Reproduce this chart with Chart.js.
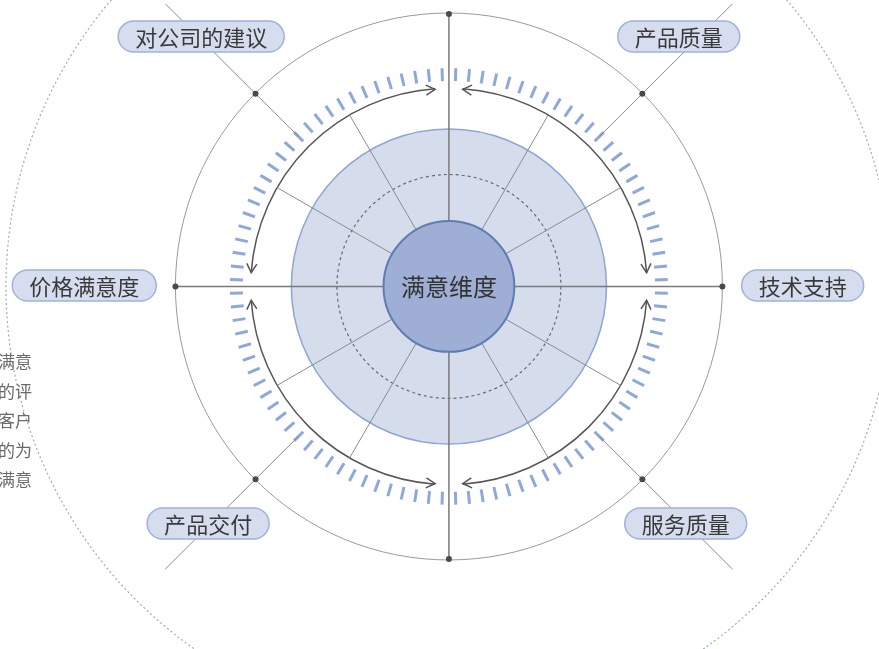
<!DOCTYPE html>
<html>
<head>
<meta charset="utf-8">
<script src="https://cdn.jsdelivr.net/npm/chart.js@4.4.1/dist/chart.umd.min.js"></script>
<style>
  html, body { margin: 0; padding: 0; background: #fff; }
  #wrap { width: 879px; height: 649px; }
</style>
</head>
<body>
<div id="wrap"><canvas id="chart-wheel"></canvas></div>
<script>
// data
var centerLabel = "满意维度";
var dimensions = ["产品质量", "技术支持", "服务质量", "产品交付", "价格满意度", "对公司的建议"];
var dimAngles = [45, 90, 135, 225, 270, 315];
var sideNote = ["满意", "的评", "客户", "的为", "满意"];
var tickCount = 100;

// layout (chart units == pixels, centre of wheel at 0,0)
var R_CORE = 66, R_DASH = 113, R_DISC = 159, R_ARROW = 200;
var R_TICK_IN = 208, R_TICK_OUT = 221, R_RING = 276, R_DIAG_IN = 215, R_DIAG_OUT = 405, R_HALO = 447;
var labelOffset = {
  "产品质量": [232, 253], "技术支持": [357, 1], "服务质量": [239, -240],
  "产品交付": [-243, -240], "价格满意度": [-368, 1], "对公司的建议": [-250, 253]
};

function polar(r, deg) {
  var a = deg * Math.PI / 180;
  return { x: r * Math.sin(a), y: r * Math.cos(a) };
}

// spokes: axis lines, 30 degree spokes, diagonals
var spokeSets = [];
[0, 90, 180, 270].forEach(function (a) {
  spokeSets.push({ data: [polar(0, a), polar(a == 0 ? R_RING + 2 : R_RING, a)], color: "#7a7a7a", w: 1.5 });
});
[30, 60, 120, 150, 210, 240, 300, 330].forEach(function (a) {
  spokeSets.push({ data: [polar(0, a), polar(R_ARROW, a)], color: "#8c8c8c", w: 1 });
});
dimAngles.filter(function (a) { return a % 90 != 0; }).forEach(function (a) {
  spokeSets.push({ data: [polar(R_DIAG_IN, a), polar(R_DIAG_OUT, a)], color: "#8c8c8c", w: 1 });
});

var dotPoints = [0, 45, 90, 135, 180, 225, 270, 315].map(function (a) { return polar(R_RING, a); });

var datasets = spokeSets.map(function (s) {
  return {
    type: "line", data: s.data, borderColor: s.color, borderWidth: s.w,
    pointRadius: 0, fill: false, tension: 0, order: 2
  };
});
datasets.push({
  type: "scatter", data: dotPoints, pointRadius: 3, pointBackgroundColor: "#4a4a4a",
  pointBorderWidth: 0, order: 1
});

function roundRect(ctx, x, y, w, h, r) {
  ctx.beginPath();
  ctx.moveTo(x + r, y);
  ctx.lineTo(x + w - r, y);
  ctx.arc(x + w - r, y + r, r, -Math.PI / 2, Math.PI / 2);
  ctx.lineTo(x + r, y + h);
  ctx.arc(x + r, y + r, r, Math.PI / 2, Math.PI * 1.5);
  ctx.closePath();
}

var wheelPlugin = {
  id: "wheel",
  beforeDatasetsDraw: function (chart) {
    var ctx = chart.ctx, sx = chart.scales.x, sy = chart.scales.y;
    var cx = sx.getPixelForValue(0), cy = sy.getPixelForValue(0);
    var k = sx.getPixelForValue(1) - cx;
    function circle(r) { ctx.beginPath(); ctx.arc(cx, cy, r * k, 0, Math.PI * 2); }
    function pt(r, a) { var p = polar(r, a); return [sx.getPixelForValue(p.x), sy.getPixelForValue(p.y)]; }
    ctx.save();
    // halo
    circle(R_HALO);
    ctx.setLineDash([2, 2.5]);
    ctx.strokeStyle = "#98aacf";
    ctx.lineWidth = 1.2;
    ctx.stroke();
    ctx.setLineDash([]);
    // outer ring
    circle(R_RING);
    ctx.strokeStyle = "#9a9a9a";
    ctx.lineWidth = 1;
    ctx.stroke();
    // disc
    circle(R_DISC);
    ctx.fillStyle = "#d5dcec";
    ctx.fill();
    ctx.strokeStyle = "#8fa6d4";
    ctx.lineWidth = 1.5;
    ctx.stroke();
    circle(R_DASH);
    ctx.setLineDash([3, 3]);
    ctx.strokeStyle = "#6a6a6a";
    ctx.lineWidth = 1.2;
    ctx.stroke();
    ctx.setLineDash([]);
    // tick ring
    ctx.strokeStyle = "#8ea8dc";
    ctx.lineWidth = 3;
    for (var i = 0; i < tickCount; i++) {
      var a = (i + 0.5) * 360 / tickCount;
      var p1 = pt(R_TICK_IN, a), p2 = pt(R_TICK_OUT, a);
      ctx.beginPath(); ctx.moveTo(p1[0], p1[1]); ctx.lineTo(p2[0], p2[1]); ctx.stroke();
    }
    // arrows, both ends of each quarter arc
    ctx.strokeStyle = "#555";
    ctx.lineWidth = 1.5;
    [0, 90, 180, 270].forEach(function (q) {
      var a0 = q + 4, a1 = q + 86;
      ctx.beginPath();
      ctx.arc(cx, cy, R_ARROW * k, (a0 - 90) * Math.PI / 180, (a1 - 90) * Math.PI / 180);
      ctx.stroke();
      [[a0, -1], [a1, 1]].forEach(function (e) {
        var tip = pt(R_ARROW, e[0]);
        var t = e[0] * Math.PI / 180;
        var dx = Math.cos(t) * e[1], dy = Math.sin(t) * e[1];
        var L = 9, W = 5;
        var nx = -dy, ny = dx;
        ctx.beginPath();
        ctx.moveTo(tip[0] - dx * L + nx * W, tip[1] - dy * L + ny * W);
        ctx.lineTo(tip[0], tip[1]);
        ctx.lineTo(tip[0] - dx * L - nx * W, tip[1] - dy * L - ny * W);
        ctx.stroke();
      });
    });
    ctx.restore();
  },
  afterDatasetsDraw: function (chart) {
    var ctx = chart.ctx, sx = chart.scales.x, sy = chart.scales.y;
    var cx = sx.getPixelForValue(0), cy = sy.getPixelForValue(0);
    var k = sx.getPixelForValue(1) - cx;
    ctx.save();
    // core
    ctx.beginPath();
    ctx.arc(cx, cy, R_CORE * k, 0, Math.PI * 2);
    ctx.fillStyle = "#9eaed4";
    ctx.fill();
    ctx.strokeStyle = "#5f7db0";
    ctx.lineWidth = 2;
    ctx.stroke();
    ctx.fillStyle = "#333";
    ctx.font = "24px 'Noto Sans CJK SC'";
    ctx.textAlign = "center";
    ctx.textBaseline = "middle";
    ctx.fillText(centerLabel, cx, cy);
    // labels
    ctx.font = "22px 'Noto Sans CJK SC'";
    dimensions.forEach(function (d) {
      var o = labelOffset[d];
      var x = sx.getPixelForValue(o[0]), y = sy.getPixelForValue(o[1]);
      var w = ctx.measureText(d).width + 34, h = 31;
      roundRect(ctx, x - w / 2, y - h / 2, w, h, h / 2);
      ctx.fillStyle = "#d6ddef";
      ctx.fill();
      ctx.strokeStyle = "#9fb2dc";
      ctx.lineWidth = 1.5;
      ctx.stroke();
      ctx.fillStyle = "#3a3a3a";
      ctx.fillText(d, x, y + 1);
    });
    // cropped side note
    ctx.font = "17px 'Noto Sans CJK SC'";
    ctx.fillStyle = "#6a6a6a";
    ctx.textAlign = "right";
    sideNote.forEach(function (s, i) {
      ctx.fillText(s, 32, 362 + i * 29.5);
    });
    ctx.restore();
  }
};

var ctx = document.getElementById("chart-wheel").getContext("2d");
new Chart(ctx, {
  data: { datasets: datasets },
  options: {
    responsive: true,
    maintainAspectRatio: false,
    animation: false,
    layout: { padding: 0 },
    plugins: { legend: { display: false }, tooltip: { enabled: false } },
    scales: {
      x: { type: "linear", min: -449, max: 430, display: false },
      y: { type: "linear", min: -363, max: 286, display: false }
    }
  },
  plugins: [wheelPlugin]
});
</script>
</body>
</html>
